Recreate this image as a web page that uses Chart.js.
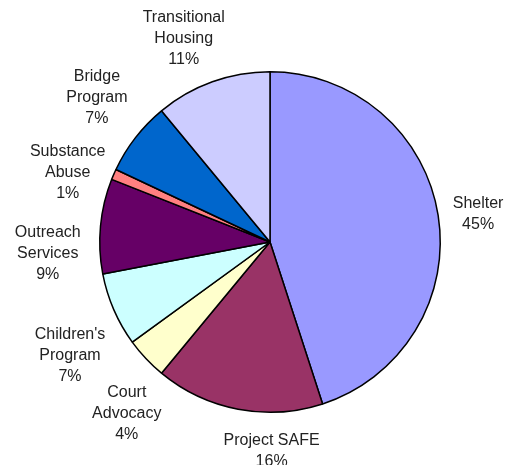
<!DOCTYPE html>
<html>
<head>
<meta charset="utf-8">
<script src="https://cdn.jsdelivr.net/npm/chart.js@4.4.1/dist/chart.umd.min.js"></script>
<style>
  html, body { margin: 0; padding: 0; background: #fff; }
  #wrap { width: 517px; height: 465px; }
</style>
</head>
<body>
<div id="wrap"><canvas id="pieChart" width="517" height="465"></canvas></div>
<script>
// Programs, clockwise from 12 o'clock
const categories = [
    ['Shelter'],
    ['Project SAFE'],
    ['Court', 'Advocacy'],
    ["Children's", 'Program'],
    ['Outreach', 'Services'],
    ['Substance', 'Abuse'],
    ['Bridge', 'Program'],
    ['Transitional', 'Housing']
];
const shares = [45, 16, 4, 7, 9, 1, 7, 11];
const sliceColors = ['#9999FF', '#993366', '#FFFFCC', '#CCFFFF', '#660066', '#FF8080', '#0066CC', '#CCCCFF'];

// Draw the labels outside each slice (Excel "best fit" pushes some of them around)
const outsideLabels = {
    id: 'outsideLabels',
    afterDatasetsDraw(chart, args, opts) {
        const ctx = chart.ctx;
        const meta = chart.getDatasetMeta(0);
        const nudge = opts.nudge || [];
        ctx.save();
        ctx.font = '16px "Liberation Sans", Arial, sans-serif';
        ctx.fillStyle = '#222';
        ctx.textAlign = 'center';
        ctx.textBaseline = 'middle';
        const lineH = 21;
        meta.data.forEach((arc, i) => {
            const p = arc.getProps(['x', 'y', 'startAngle', 'endAngle', 'outerRadius'], true);
            const mid = (p.startAngle + p.endAngle) / 2;
            const lines = categories[i].concat([shares[i] + '%']);
            let w = 0;
            lines.forEach(l => { w = Math.max(w, ctx.measureText(l).width); });
            const h = lines.length * lineH;
            const r = p.outerRadius + 8;
            const off = nudge[i] || [0, 0];
            const cx = p.x + Math.cos(mid) * (r + w / 2) + off[0];
            const cy = p.y + Math.sin(mid) * r + Math.sin(mid) * h / 2 + off[1];
            lines.forEach((l, j) => {
                ctx.fillText(l, cx, cy - h / 2 + lineH / 2 + j * lineH);
            });
        });
        ctx.restore();
    }
};

const config = {
    type: 'pie',
    data: {
        labels: categories,
        datasets: [{
            data: shares,
            backgroundColor: sliceColors,
            borderColor: '#000',
            borderWidth: 1.5
        }]
    },
    options: {
        responsive: false,
        animation: false,
        layout: {
            padding: { top: 71, bottom: 52, left: 99, right: 76 }
        },
        plugins: {
            legend: { display: false },
            tooltip: { enabled: false },
            outsideLabels: {
                nudge: [[7, 3], [44, 13], [12, 28], [-4, 30], [-12, 31], [-4, 14], [-8, -16], [-12, -6]]
            }
        }
    },
    plugins: [outsideLabels]
};

new Chart(document.getElementById('pieChart').getContext('2d'), config);
</script>
</body>
</html>
